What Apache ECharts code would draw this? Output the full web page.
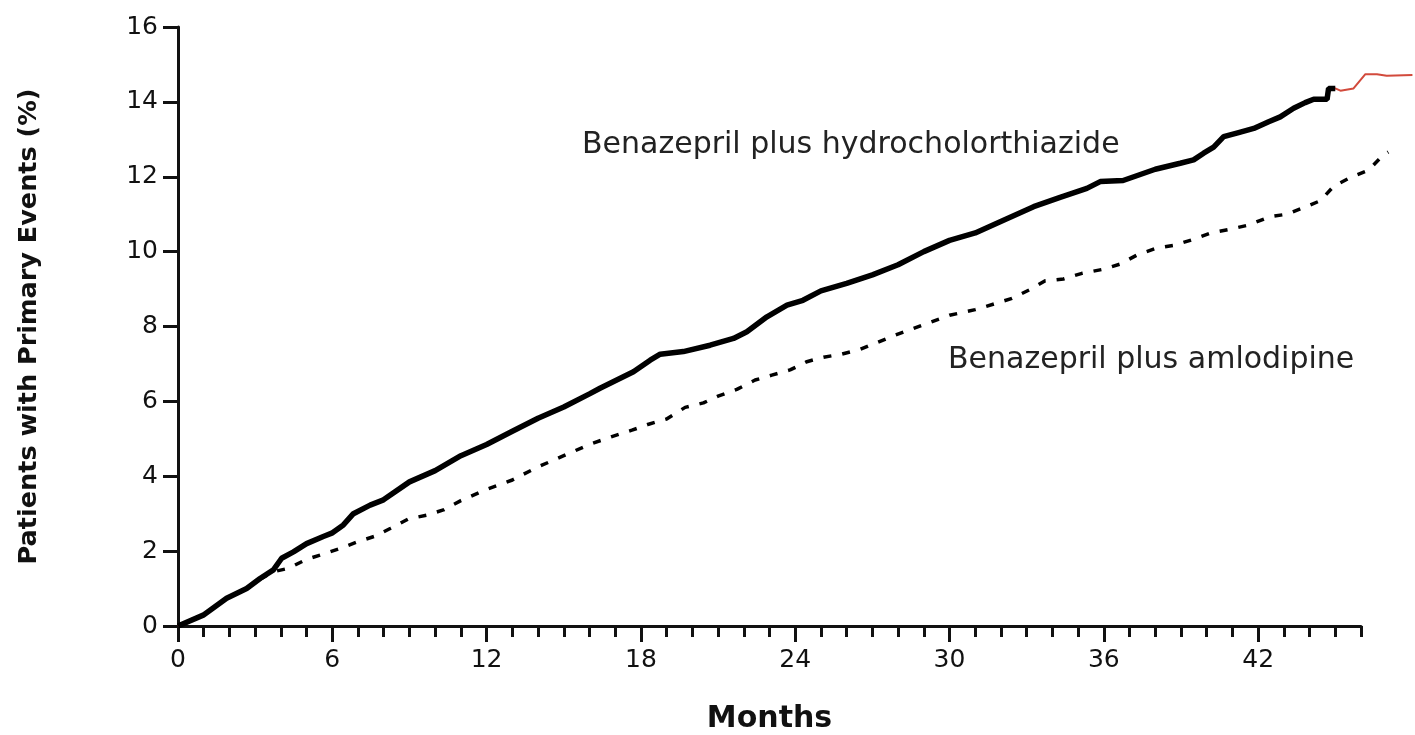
<!DOCTYPE html>
<html>
<head>
<meta charset="utf-8">
<script src="https://cdn.jsdelivr.net/npm/echarts@6/dist/echarts.min.js"></script>
<style>
  html, body { margin: 0; padding: 0; background: #fff; }
  #chart { width: 1415px; height: 735px; }
</style>
</head>
<body>
<div id="chart"></div>
<script>
// benazepril + hydrochlorothiazide (months, % with primary event)
const hctzMonths = [0, 0.98, 1.89, 2.67, 3.19, 3.71, 4.03, 4.49, 5.0, 5.65, 5.98, 6.43, 6.82, 7.47, 7.99, 9, 10, 11, 12, 13, 14, 15, 16, 16.41, 17.71, 18.36, 18.75, 19.65, 20.69, 21.6, 22.12, 22.9, 23.68, 24.3, 25, 26, 27, 28, 29, 30, 31, 31.97, 33.27, 34.3, 35.34, 35.86, 36.75, 38, 38.97, 39.49, 39.88, 40.27, 40.66, 41.24, 41.83, 42.41, 42.86, 43.38, 43.83, 44.16, 44.68, 44.74, 45.0, 45.2, 45.71, 46.17, 46.62, 47.0, 48.0];
const hctzPct = [0, 0.29, 0.74, 1.0, 1.27, 1.5, 1.81, 1.98, 2.2, 2.39, 2.48, 2.7, 3.0, 3.23, 3.37, 3.85, 4.15, 4.55, 4.85, 5.2, 5.55, 5.85, 6.2, 6.35, 6.79, 7.1, 7.26, 7.33, 7.5, 7.68, 7.86, 8.26, 8.57, 8.7, 8.95, 9.15, 9.38, 9.65, 10.0, 10.3, 10.5, 10.8, 11.2, 11.45, 11.69, 11.87, 11.9, 12.2, 12.36, 12.45, 12.63, 12.79, 13.07, 13.18, 13.29, 13.47, 13.6, 13.83, 13.98, 14.07, 14.07, 14.36, 14.36, 14.3, 14.36, 14.74, 14.74, 14.7, 14.72];

// benazepril + amlodipine
const amloMonths = [0, 0.98, 1.89, 2.67, 3.19, 3.71, 4.29, 5.0, 5.65, 6.26, 6.95, 7.66, 8.27, 8.96, 9.67, 10.32, 11, 12, 13, 14, 15, 16, 16.87, 17.65, 18.3, 19.0, 19.72, 20.43, 21.0, 21.73, 22.44, 23.09, 23.8, 24.45, 25.1, 25.8, 26.53, 27.17, 27.89, 29, 30, 31, 32.43, 33.14, 33.72, 34.43, 35.15, 35.99, 36.64, 37.29, 38.04, 38.74, 39.49, 40.17, 40.92, 41.63, 42.45, 43.12, 43.75, 44.42, 44.94, 45.65, 46.3, 46.82, 47.06];
const amloPct = [0, 0.29, 0.74, 1.0, 1.25, 1.45, 1.54, 1.78, 1.92, 2.06, 2.24, 2.4, 2.61, 2.86, 2.96, 3.1, 3.35, 3.65, 3.9, 4.25, 4.55, 4.85, 5.06, 5.23, 5.39, 5.53, 5.84, 5.96, 6.14, 6.32, 6.57, 6.7, 6.84, 7.06, 7.18, 7.26, 7.39, 7.57, 7.77, 8.05, 8.3, 8.45, 8.75, 8.99, 9.22, 9.27, 9.42, 9.53, 9.67, 9.91, 10.09, 10.17, 10.33, 10.5, 10.6, 10.71, 10.93, 11.0, 11.17, 11.36, 11.75, 12.0, 12.18, 12.55, 12.66];

const yTicks = [0, 16, 2];       // min, max, step
const xMinorMax = 46;            // visible axis ends at 46 months
const xMajorMax = 42;            // last labelled tick
const xDataMax = 48;             // follow-up runs a bit past the axis
const blackUntil = 45;           // thick black trace stops here, thin red goes on

const hctzData = hctzMonths.map((m, i) => [m, hctzPct[i]]);
const amloData = amloMonths.map((m, i) => [m, amloPct[i]]);

const font = "'DejaVu Sans', sans-serif";
const ink = "#111";

// px per month on the visible axis, so the wider hidden data grid keeps the same scale
const plotLeft = 178;
const plotRight = 54;
const monthPx = (1415 - plotLeft - plotRight) / xMinorMax;

const chart = echarts.init(document.getElementById("chart"));

const gridBase = { left: plotLeft, top: 27, bottom: 109, outerBoundsMode: "none" };

const option = {
  animation: false,
  backgroundColor: "#fff",
  grid: [
    Object.assign({}, gridBase, { right: plotRight }),
    Object.assign({}, gridBase, { right: 1415 - plotLeft - monthPx * xMajorMax }),
    Object.assign({}, gridBase, { right: 1415 - plotLeft - monthPx * xDataMax }),
  ],
  xAxis: [
    {
      type: "value",
      gridIndex: 0,
      min: 0,
      max: xMinorMax,
      interval: 1,
      splitLine: { show: false },
      axisLine: { show: true, lineStyle: { color: ink, width: 3 } },
      axisTick: { show: true, inside: false, length: 11, lineStyle: { color: ink, width: 3 } },
      axisLabel: { show: false },
      name: "Months",
      nameLocation: "middle",
      nameGap: 78,
      nameTextStyle: { fontFamily: font, fontWeight: "bold", fontSize: 30, color: ink },
    },
    {
      type: "value",
      gridIndex: 1,
      min: 0,
      max: xMajorMax,
      interval: 6,
      splitLine: { show: false },
      axisLine: { show: false },
      axisTick: { show: true, inside: false, length: 16, lineStyle: { color: ink, width: 3 } },
      axisLabel: { margin: 22, fontFamily: font, fontSize: 25, color: ink },
    },
    { type: "value", gridIndex: 2, min: 0, max: xDataMax, show: false },
  ],
  yAxis: [
    {
      type: "value",
      gridIndex: 0,
      min: yTicks[0],
      max: yTicks[1],
      interval: yTicks[2],
      splitLine: { show: false },
      axisLine: { show: true, lineStyle: { color: ink, width: 3 } },
      axisTick: { show: true, inside: false, length: 15, lineStyle: { color: ink, width: 3 } },
      axisLabel: { margin: 20, fontFamily: font, fontSize: 25, color: ink },
      name: "Patients with Primary Events (%)",
      nameLocation: "middle",
      nameGap: 136,
      nameTextStyle: { fontFamily: font, fontWeight: "bold", fontSize: 25.5, color: ink },
    },
    { type: "value", gridIndex: 1, min: yTicks[0], max: yTicks[1], show: false },
    { type: "value", gridIndex: 2, min: yTicks[0], max: yTicks[1], show: false },
  ],
  graphic: [
    {
      type: "text",
      left: 582,
      top: 130,
      style: { text: "Benazepril plus hydrocholorthiazide", font: "30px " + font, fill: "#222" },
    },
    {
      type: "text",
      left: 948,
      top: 345,
      style: { text: "Benazepril plus amlodipine", font: "30px " + font, fill: "#222" },
    },
  ],
  series: [
    {
      name: "Benazepril plus amlodipine",
      type: "line",
      xAxisIndex: 2,
      yAxisIndex: 2,
      data: amloData,
      symbol: "none",
      z: 2,
      lineStyle: { color: "#000", width: 3.5, type: [8, 11] },
    },
    {
      name: "Benazepril plus hydrocholorthiazide",
      type: "line",
      xAxisIndex: 2,
      yAxisIndex: 2,
      data: hctzData,
      symbol: "none",
      z: 3,
      lineStyle: { color: "#d24a3c", width: 2 },
    },
    {
      name: "hctz-black",
      type: "line",
      xAxisIndex: 2,
      yAxisIndex: 2,
      data: hctzData.filter((d) => d[0] <= blackUntil),
      symbol: "none",
      z: 4,
      lineStyle: { color: "#000", width: 5.5 },
    },
  ],
};

chart.setOption(option);
</script>
</body>
</html>
